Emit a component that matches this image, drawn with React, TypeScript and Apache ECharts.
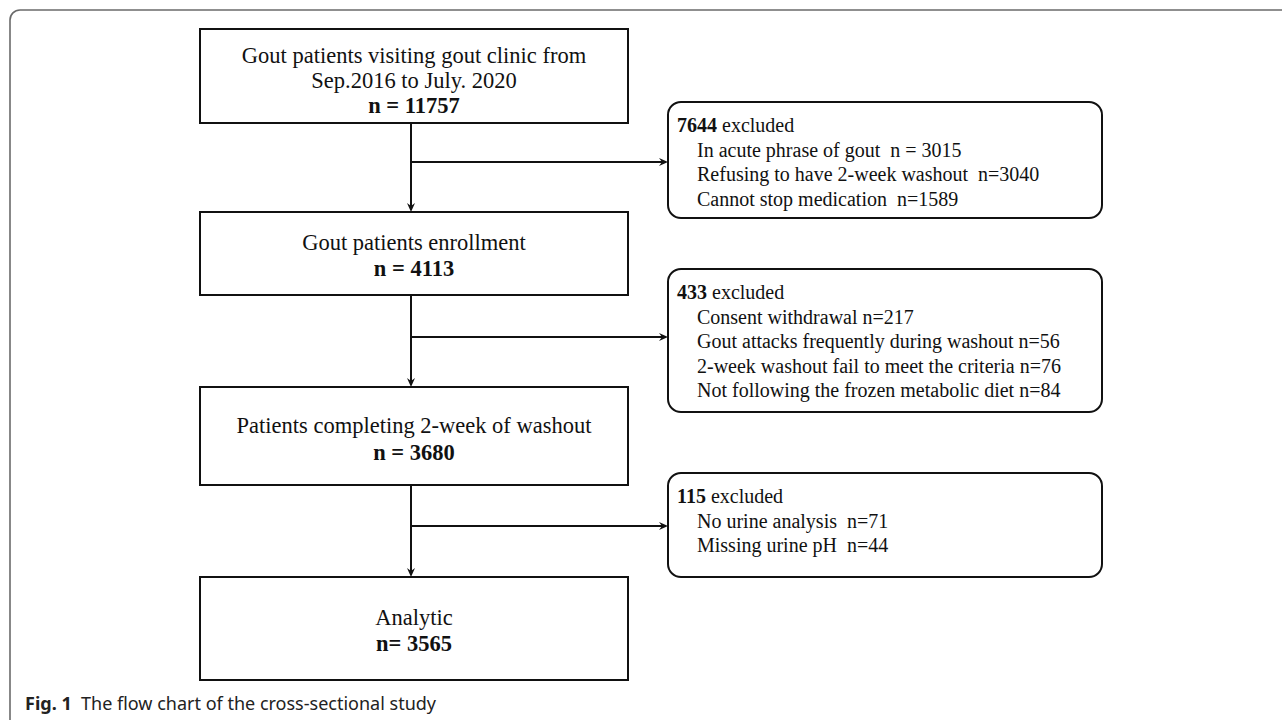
import React, { useEffect, useRef } from "react";
import * as echarts from "echarts";

// ---- data ----
const stageLabels: string[][] = [
  ["Gout patients visiting gout clinic from", "Sep.2016 to July. 2020"],
  ["Gout patients enrollment"],
  ["Patients completing 2-week of washout"],
  ["Analytic"],
];
const stageCounts: string[] = ["n = 11757", "n = 4113", "n = 3680", "n= 3565"];
const excludedTotals: number[] = [7644, 433, 115];
const exclusionReasons: string[][] = [
  ["In acute phrase of gout  n = 3015", "Refusing to have 2-week washout  n=3040", "Cannot stop medication  n=1589"],
  [
    "Consent withdrawal n=217",
    "Gout attacks frequently during washout n=56",
    "2-week washout fail to meet the criteria n=76",
    "Not following the frozen metabolic diet n=84",
  ],
  ["No urine analysis  n=71", "Missing urine pH  n=44"],
];
const captionBold = "Fig. 1";
const captionText = "The flow chart of the cross-sectional study";

// ---- layout ----
const MAIN_X = 200;
const MAIN_W = 428;
const MAIN_BOXES = [
  { y: 29, h: 94, lines: [55, 80, 105] },
  { y: 212, h: 83, lines: [242, 268] },
  { y: 387, h: 98, lines: [425, 452] },
  { y: 577, h: 103, lines: [617, 643] },
];
const TRUNK_X = 411;
const SIDE_X = 668;
const SIDE_W = 434;
const SIDE_BOXES = [
  { y: 102, h: 116, arrowY: 162 },
  { y: 269, h: 143, arrowY: 337 },
  { y: 473, h: 104, arrowY: 526 },
];
const SERIF = "'Liberation Serif', 'Times New Roman', serif";
const SANS = "'Noto Sans', 'Open Sans', sans-serif";

function arrowHead(x: number, y: number, dir: "down" | "right"): any {
  const L = 9;
  const W = 4;
  const pts =
    dir === "down"
      ? [[x, y], [x - W, y - L], [x, y - L + 3], [x + W, y - L]]
      : [[x, y], [x - L, y - W], [x - L + 3, y], [x - L, y + W]];
  return { type: "polygon", shape: { points: pts }, style: { fill: "#111" }, z: 5 };
}

export default function App() {
  const ref = useRef<HTMLDivElement>(null);
  useEffect(() => {
    document.body.style.margin = "0";
    if (!ref.current) return;
    const chart = echarts.init(ref.current, undefined, { renderer: "svg" });
    const els: any[] = [];

    // outer frame
    const frameStyle = { stroke: "#6a6a6a", lineWidth: 1.6, fill: "none" };
    els.push({ type: "line", shape: { x1: 20, y1: 10, x2: 1290, y2: 10 }, style: frameStyle });
    els.push({ type: "line", shape: { x1: 10, y1: 20, x2: 10, y2: 730 }, style: frameStyle });
    els.push({
      type: "arc",
      shape: { cx: 20, cy: 20, r: 10, startAngle: Math.PI, endAngle: Math.PI * 1.5, clockwise: true },
      style: frameStyle,
    });

    // main boxes
    stageLabels.forEach((lbls, i) => {
      const b = MAIN_BOXES[i];
      els.push({
        type: "rect",
        shape: { x: MAIN_X, y: b.y, width: MAIN_W, height: b.h },
        style: { fill: "#fff", stroke: "#111", lineWidth: 2 },
      });
      const all = [...lbls, stageCounts[i]];
      all.forEach((t, j) => {
        const isCount = j === all.length - 1;
        els.push({
          type: "text",
          x: MAIN_X + MAIN_W / 2,
          y: b.lines[j],
          style: {
            text: t,
            fill: "#111",
            font: `${isCount ? "bold " : ""}22.5px ${SERIF}`,
            textAlign: "center",
            textVerticalAlign: "middle",
          },
          z: 3,
        });
      });
    });

    // vertical connectors
    for (let i = 0; i < MAIN_BOXES.length - 1; i++) {
      const y1 = MAIN_BOXES[i].y + MAIN_BOXES[i].h;
      const y2 = MAIN_BOXES[i + 1].y;
      els.push({
        type: "line",
        shape: { x1: TRUNK_X, y1, x2: TRUNK_X, y2: y2 - 4 },
        style: { stroke: "#111", lineWidth: 2 },
      });
      els.push(arrowHead(TRUNK_X, y2, "down"));
    }

    // side boxes
    excludedTotals.forEach((tot, i) => {
      const s = SIDE_BOXES[i];
      els.push({
        type: "line",
        shape: { x1: TRUNK_X, y1: s.arrowY, x2: SIDE_X - 4, y2: s.arrowY },
        style: { stroke: "#111", lineWidth: 2 },
      });
      els.push(arrowHead(SIDE_X, s.arrowY, "right"));
      els.push({
        type: "rect",
        shape: { x: SIDE_X, y: s.y, width: SIDE_W, height: s.h, r: 13 },
        style: { fill: "#fff", stroke: "#111", lineWidth: 2 },
      });
      els.push({
        type: "text",
        x: SIDE_X + 9,
        y: s.y + 23,
        style: {
          text: `{b|${tot}} excluded`,
          fill: "#111",
          font: `20px ${SERIF}`,
          textVerticalAlign: "middle",
          rich: { b: { fontWeight: "bold", fontSize: 20, fontFamily: SERIF, fill: "#111" } },
        },
        z: 3,
      });
      exclusionReasons[i].forEach((r, j) => {
        els.push({
          type: "text",
          x: SIDE_X + 29,
          y: s.y + 23 + (j + 1) * 24.5,
          style: {
            text: r,
            fill: "#111",
            font: `20px ${SERIF}`,
            textVerticalAlign: "middle",
          },
          z: 3,
        });
      });
    });

    // caption
    els.push({
      type: "text",
      x: 25,
      y: 703,
      style: {
        text: `{b|${captionBold}}  ${captionText}`,
        fill: "#222",
        font: `18px ${SANS}`,
        textVerticalAlign: "middle",
        rich: { b: { fontWeight: "bold", fontSize: 18, fontFamily: SANS, fill: "#222" } },
      },
    });

    chart.setOption({ animation: false, backgroundColor: "#fff", graphic: { elements: els } });
    return () => chart.dispose();
  }, []);
  return <div ref={ref} style={{ width: 1282, height: 720 }} />;
}
